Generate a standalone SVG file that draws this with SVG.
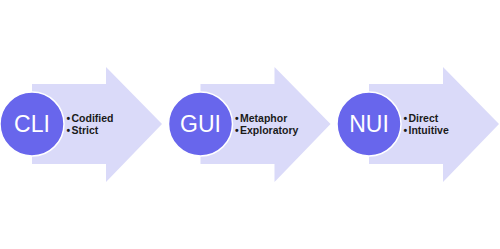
<svg xmlns="http://www.w3.org/2000/svg" width="500" height="249" viewBox="0 0 500 249">
<defs>
<style>
.arrow{fill:#dadaf9;stroke:none}
.circle{fill:#6866ec;stroke:#ffffff;stroke-width:1.5}
.title{font-family:"Liberation Sans",Arial,sans-serif;font-size:23px;fill:#ffffff;text-anchor:middle}
.item{font-family:"Liberation Sans",Arial,sans-serif;font-size:10.5px;font-weight:bold;fill:#1a1a1a}
</style>
<path id="arr" d="M0,-40 H74 V-57 L130,0 L74,58 V40 H0 Z"/>
</defs>
<rect width="500" height="249" fill="#ffffff"/>
<g id="connectors">
<use href="#arr" class="arrow" transform="translate(32,124)"/>
<use href="#arr" class="arrow" transform="translate(200.5,124)"/>
<use href="#arr" class="arrow" transform="translate(369,124)"/>
</g>
<g id="cli">
<circle class="circle" cx="32" cy="124" r="32"/>
<text class="title" x="32" y="132">CLI</text>
<text class="item"><tspan x="66.5" y="122">•</tspan><tspan x="71.5" y="122">Codified</tspan></text>
<text class="item"><tspan x="66.5" y="134">•</tspan><tspan x="71.5" y="134">Strict</tspan></text>
</g>
<g id="gui">
<circle class="circle" cx="200.5" cy="124" r="32"/>
<text class="title" x="200.5" y="132">GUI</text>
<text class="item"><tspan x="235" y="122">•</tspan><tspan x="240" y="122">Metaphor</tspan></text>
<text class="item"><tspan x="235" y="134">•</tspan><tspan x="240" y="134">Exploratory</tspan></text>
</g>
<g id="nui">
<circle class="circle" cx="369" cy="124" r="32"/>
<text class="title" x="369" y="132">NUI</text>
<text class="item"><tspan x="403.5" y="122">•</tspan><tspan x="408.5" y="122">Direct</tspan></text>
<text class="item"><tspan x="403.5" y="134">•</tspan><tspan x="408.5" y="134">Intuitive</tspan></text>
</g>
</svg>
